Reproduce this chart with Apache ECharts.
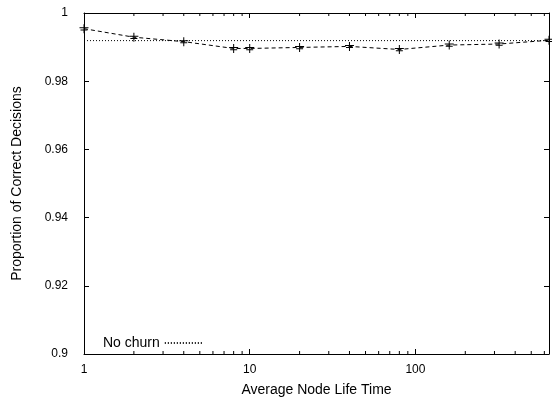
<!DOCTYPE html>
<html>
<head>
<meta charset="utf-8">
<script src="https://cdn.jsdelivr.net/npm/echarts@6/dist/echarts.min.js"></script>
<style>
html,body{margin:0;padding:0;background:#fff;}
#chart{width:552px;height:402px;}
</style>
</head>
<body>
<div id="chart"></div>
<script>
// Data
var lifeTimes = [1, 2, 4, 8, 10, 20, 40, 80, 160, 320, 640];
var correct   = [0.9954, 0.9929, 0.9916, 0.9896, 0.9896, 0.9899, 0.9902, 0.9893, 0.9906, 0.9909, 0.9920];
var noChurnX  = [1, 640];
var noChurnY  = [0.9919, 0.9919];
var minorTicks = [2,3,4,5,6,7,8,9,20,30,40,50,60,70,80,90,200,300,400,500,600];
var xMin = 1, xMax = 640, yMin = 0.9, yMax = 1, yStep = 0.02;

var font = 'Liberation Sans';
var chart = echarts.init(document.getElementById('chart'));

var xAxisCommon = {
  type: 'log', logBase: 10, min: xMin, max: xMax,
  axisLine: {show: true, onZero: false, lineStyle: {color: '#000', width: 1}},
  axisTick: {show: true, inside: true, length: 5, lineStyle: {color: '#000'}},
  splitLine: {show: false}, minorTick: {show: false}
};
var yAxisCommon = {
  type: 'value', min: yMin, max: yMax, interval: yStep,
  axisLine: {show: true, lineStyle: {color: '#000', width: 1}},
  axisTick: {show: true, inside: true, length: 5, lineStyle: {color: '#000'}},
  splitLine: {show: false}
};

var errSymbol = 'path://M4,0 h1 v9 h-1 z M0,3 h9 v1 h-9 z M1,5.2 h7 v1 h-7 z';

chart.setOption({
  animation: false,
  backgroundColor: '#fff',
  textStyle: {fontFamily: font},
  grid: {left: 84, top: 13, width: 469, height: 342, containLabel: false},
  legend: {
    show: true, left: 98, top: 331, align: 'right',
    itemWidth: 38, itemHeight: 10, itemGap: 10,
    itemStyle: {opacity: 0},
    data: [{name: 'No churn'}],
    textStyle: {fontFamily: font, fontSize: 14, color: '#000'}
  },
  xAxis: [
    Object.assign({}, xAxisCommon, {
      position: 'bottom',
      name: 'Average Node Life Time', nameLocation: 'middle', nameGap: 29,
      nameTextStyle: {fontFamily: font, fontSize: 14, color: '#000'},
      axisLabel: {show: true, color: '#000', fontFamily: font, fontSize: 12, margin: 10,
        formatter: function(v){ return (v===1||v===10||v===100) ? String(v) : ''; }}
    }),
    Object.assign({}, xAxisCommon, {position: 'top', axisLabel: {show: false}})
  ],
  yAxis: [
    Object.assign({}, yAxisCommon, {
      position: 'left',
      name: 'Proportion of Correct Decisions', nameLocation: 'middle', nameGap: 60,
      nameTextStyle: {fontFamily: font, fontSize: 14, color: '#000'},
      axisLabel: {show: true, color: '#000', fontFamily: font, fontSize: 12, margin: 16,
        formatter: function(v){ return String(parseFloat(v.toFixed(2))); }}
    }),
    Object.assign({}, yAxisCommon, {position: 'right', axisLabel: {show: false}})
  ],
  series: [
    {
      name: 'Measured', type: 'line', xAxisIndex: 0, yAxisIndex: 0,
      data: lifeTimes.map(function(x, i){ return [x, correct[i]]; }),
      symbol: errSymbol, symbolSize: [9, 9], showSymbol: true,
      itemStyle: {color: '#000'},
      lineStyle: {color: '#000', width: 1, type: [4, 3]},
      z: 3
    },
    {
      name: 'No churn', type: 'line', xAxisIndex: 0, yAxisIndex: 0,
      data: noChurnX.map(function(x, i){ return [x, noChurnY[i]]; }),
      symbol: 'none', showSymbol: false,
      itemStyle: {color: '#000'},
      lineStyle: {color: '#000', width: 1, type: [1, 2]},
      z: 2
    },
    {
      name: 'minor', type: 'custom', xAxisIndex: 0, yAxisIndex: 0,
      data: minorTicks.map(function(x){ return [x]; }),
      silent: true, clip: false,
      renderItem: function(params, api){
        var x = api.value(0);
        var b = api.coord([x, yMin]);
        var t = api.coord([x, yMax]);
        var st = {stroke: '#000', lineWidth: 1};
        return {type: 'group', children: [
          {type: 'line', shape: {x1: b[0], y1: b[1], x2: b[0], y2: b[1]-3}, style: st},
          {type: 'line', shape: {x1: t[0], y1: t[1], x2: t[0], y2: t[1]+3}, style: st}
        ]};
      },
      z: 4
    }
  ]
});
</script>
</body>
</html>
